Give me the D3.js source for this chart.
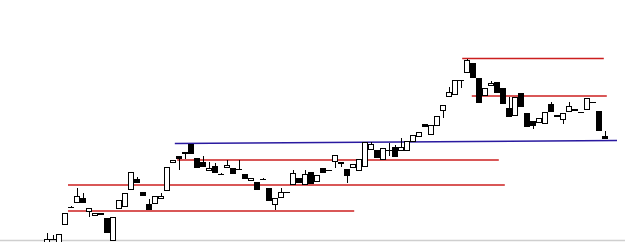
<!DOCTYPE html>
<html>
<head>
<meta charset="utf-8">
<script src="https://cdn.jsdelivr.net/npm/d3@7"></script>
<style>
html,body{margin:0;padding:0;background:#fff;}
svg{display:block;}
</style>
</head>
<body>
<svg id="chart" width="625" height="242"></svg>
<script>
// OHLC values (arbitrary price units), one entry per bar
const opens  = [0,11,0,25,43,47,52,38,34,35,32,9,41,43,60,71,58,46,46,51,59,87,94,96,106,92,88,79,84,76,82,82,81,76,69,68,71,62,45,52,58,65,72,65,78,68,82,80,88,88,81,82,79,83,100,100,90,100,103,99,99,108,113,126,115,124,139,153,155,170,177,187,172,154,164,168,162,142,134,157,137,129,127,126,146,133,130,138,141,138,140,148,139,114];
const closes = [11,11,16,37,43,54,47,42,37,37,17,33,50,57,78,67,54,40,54,54,83,90,91,98,96,82,83,82,77,76,85,76,81,71,72,60,71,49,52,58,58,77,67,76,66,75,77,80,95,86,74,86,91,108,106,92,102,100,93,103,109,115,118,123,125,134,145,158,170,170,190,172,147,162,167,157,146,133,153,143,123,124,132,138,138,135,137,144,139,138,152,148,119,111];
const highs  = [17,15,16,37,44,62,57,42,37,37,32,33,50,57,78,73,58,51,54,57,83,90,94,98,106,92,94,88,87,77,90,82,90,76,72,68,72,62,52,62,58,80,72,80,78,75,82,80,95,88,81,86,91,108,108,100,102,107,105,112,109,115,118,126,125,134,145,163,170,170,191,187,172,162,169,168,162,153,153,157,137,129,132,138,148,135,137,148,141,138,152,148,139,119];
const lows   = [0,10,0,25,42,47,47,33,34,35,17,9,41,43,60,67,54,40,46,51,59,87,80,91,96,82,83,79,77,76,82,76,81,71,69,60,70,49,40,52,58,65,67,65,66,68,77,80,82,83,67,82,79,83,100,92,90,94,93,99,99,108,113,123,115,124,132,153,155,162,177,172,147,154,164,157,146,133,134,143,123,121,127,126,138,133,126,138,139,138,140,148,119,111];

// Horizontal level lines: start / end bar index and start / end price
const levelKind     = ["resistance","resistance","resistance","support","resistance","resistance"];
const levelStartIdx = [3.5, 3.5, 21.7, 21.3, 69.2, 70.8];
const levelEndIdx   = [51.2, 76.3, 75.3, 95.0, 92.8, 93.3];
const levelStartVal = [39, 65, 90, 106.5, 191.5, 154];
const levelEndVal   = [39, 65, 90, 109.5, 191.5, 154];

const W = 625, H = 242;
const svg = d3.select("#chart");

const bars = opens.map((o, i) => ({i, o, c: closes[i], h: highs[i], l: lows[i]}));
const levels = levelKind.map((k, i) => ({k, x0: levelStartIdx[i], x1: levelEndIdx[i], v0: levelStartVal[i], v1: levelEndVal[i]}));

const x = d3.scaleLinear().domain([0, bars.length - 1]).range([47, 605]);
const y = d3.scaleLinear().domain([0, 250]).range([250, 0]);
const snap = v => Math.round(v) + 0.5;

// bottom border
svg.append("line")
  .attr("x1", 0).attr("x2", W)
  .attr("y1", 240.5).attr("y2", 240.5)
  .attr("stroke", "#cfcfcf").attr("stroke-width", 1.5);

// level lines
svg.append("g").selectAll("line").data(levels).join("line")
  .attr("x1", d => x(d.x0)).attr("x2", d => x(d.x1))
  .attr("y1", d => y(d.v0)).attr("y2", d => y(d.v1))
  .attr("stroke", d => d.k === "support" ? "#2a1aa0" : "#cc1f1f")
  .attr("stroke-width", 1.6);

const g = svg.append("g");
// wicks
g.selectAll("line.wick").data(bars).join("line")
  .attr("class", "wick")
  .attr("x1", d => Math.round(x(d.i)) + 0.5).attr("x2", d => Math.round(x(d.i)) + 0.5)
  .attr("y1", d => Math.round(y(d.h))).attr("y2", d => Math.round(y(d.l)))
  .attr("stroke", "#000").attr("stroke-width", 1)
  .attr("shape-rendering", "crispEdges");

// bodies
g.selectAll("rect.body").data(bars.filter(d => d.o !== d.c)).join("rect")
  .attr("class", "body")
  .attr("x", d => Math.round(x(d.i)) - 2.5)
  .attr("width", 5)
  .attr("y", d => Math.round(y(Math.max(d.o, d.c))) + 0.5)
  .attr("height", d => Math.max(1, Math.round(y(Math.min(d.o, d.c))) - Math.round(y(Math.max(d.o, d.c))) - 1))
  .attr("fill", d => d.c > d.o ? "#fff" : "#000")
  .attr("stroke", "#000").attr("stroke-width", 1);

// doji bars
g.selectAll("line.doji").data(bars.filter(d => d.o === d.c)).join("line")
  .attr("class", "doji")
  .attr("x1", d => Math.round(x(d.i)) - 3).attr("x2", d => Math.round(x(d.i)) + 3)
  .attr("y1", d => snap(y(d.o))).attr("y2", d => snap(y(d.o)))
  .attr("stroke", "#000").attr("stroke-width", 1)
  .attr("shape-rendering", "crispEdges");
</script>
</body>
</html>
